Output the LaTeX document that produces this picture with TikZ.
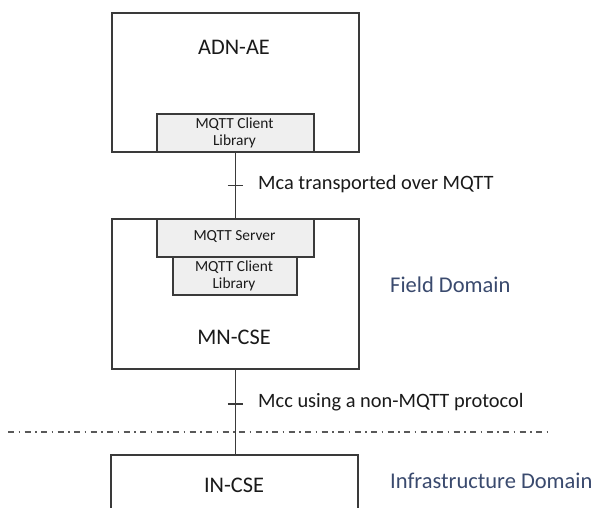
\documentclass[tikz,border=0pt]{standalone}
\usepackage{fontspec}
\setmainfont{Carlito}
\definecolor{boxc}{HTML}{3A3A3A}
\definecolor{libfill}{HTML}{EFEFEF}
\definecolor{domc}{HTML}{3A4A6E}
\definecolor{txtc}{HTML}{1A1A1A}
\begin{document}
\begin{tikzpicture}[x=1pt,y=-1pt,
  box/.style={draw=boxc, line width=1.5pt, inner sep=0pt, anchor=north west},
  lib/.style={box, fill=libfill},
  small/.style={text=txtc, align=center, font=\fontsize{15.4}{17}\selectfont},
  big/.style={text=txtc, font=\fontsize{22.3}{26}\selectfont},
  lbl/.style={text=txtc, anchor=west, inner sep=0pt, font=\fontsize{20.4}{24}\selectfont},
  dom/.style={text=domc, anchor=west, inner sep=0pt, font=\fontsize{22.5}{26}\selectfont},
  conn/.style={draw=boxc, line width=1.5pt},
  tickmark/.style={draw=boxc, line width=1.5pt},
  sep/.style={draw=black!65, line width=1.8pt, dash pattern=on 6pt off 4.5pt on 1.5pt off 4.5pt}]
\clip (0,0) rectangle (595,507);
\fill[white] (0,0) rectangle (595,507);
% boxes
\node[box, minimum width=247pt, minimum height=139pt] (adn) at (111,12) {};
\node[lib, minimum width=157pt, minimum height=38pt] (adnlib) at (156,113) {};
\node[box, minimum width=247pt, minimum height=150pt] (mn) at (111,218) {};
\node[lib, minimum width=157pt, minimum height=38pt] (srv) at (156,218) {};
\node[lib, minimum width=124pt, minimum height=38pt] (mnlib) at (172,256) {};
\node[box, minimum width=247pt, minimum height=90pt] (in) at (110,454) {};
% texts
\node[big] (adnt) at (234,47) {ADN-AE};
\node[small] (adnlibt) at (234.5,133) {MQTT Client\\Library};
\node[small] (srvt) at (234.5,237) {MQTT Server};
\node[small] (mnlibt) at (234,276) {MQTT Client\\Library};
\node[big] (mnt) at (234,337) {MN-CSE};
\node[big] (int) at (234,485) {IN-CSE};
% connectors
\draw[conn] (adnlib.south) -- coordinate[pos=0.5] (t1) (srv.north);
\coordinate (inn) at (mn.south |- in.north);
\draw[conn] (mn.south) -- coordinate[pos=0.41] (t2) (inn);
\draw[tickmark] ([xshift=-7.5pt]t1) -- ([xshift=7.5pt]t1);
\draw[tickmark] ([xshift=-7.5pt]t2) -- ([xshift=7.5pt]t2);
\node[lbl] (mca) at (258,184) {Mca transported over MQTT};
\node[lbl] (mcc) at (258,402) {Mcc using a non-MQTT protocol};
% domain separator
\coordinate (s1) at (8,432);
\coordinate (s2) at (552,432);
\draw[sep] (s1) -- (s2);
\node[dom] (field) at (390,285) {Field Domain};
\node[dom] (infra) at (390,481) {Infrastructure Domain};
\end{tikzpicture}
\end{document}
